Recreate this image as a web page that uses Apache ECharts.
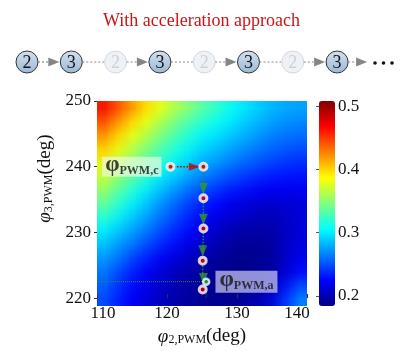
<!DOCTYPE html>
<html>
<head>
<meta charset="utf-8">
<script src="https://cdn.jsdelivr.net/npm/echarts@6/dist/echarts.min.js"></script>
<style>
html, body { margin: 0; padding: 0; background: #fff; }
#wrap { position: relative; width: 403px; height: 351px; }
#heat {
    position: absolute; left: 97px; top: 101px; width: 15px; height: 15px;
    transform: scale(14, 13.6667); transform-origin: 0 0; z-index: 0;
}
#chart { position: absolute; left: 0; top: 0; width: 403px; height: 351px; z-index: 1; }
</style>
</head>
<body>
<div id="wrap">
    <div id="heat"></div>
    <div id="chart"></div>
</div>
<script>
// cell centres of the map (deg)
const xCells = [111, 113, 115, 117, 119, 121, 123, 125, 127, 129, 131, 133, 135, 137, 139];
const yCells = [249, 247, 245, 243, 241, 239, 237, 235, 233, 231, 229, 227, 225, 223, 221];
// values, one row per yCells entry (top row first)
const fieldRows = [
    [0.474, 0.450, 0.428, 0.404, 0.386, 0.369, 0.355, 0.342, 0.328, 0.313, 0.302, 0.294, 0.286, 0.282, 0.278],
    [0.452, 0.430, 0.408, 0.387, 0.369, 0.353, 0.339, 0.326, 0.315, 0.304, 0.294, 0.286, 0.278, 0.274, 0.270],
    [0.430, 0.410, 0.388, 0.370, 0.354, 0.338, 0.324, 0.310, 0.302, 0.294, 0.286, 0.278, 0.270, 0.266, 0.262],
    [0.410, 0.390, 0.371, 0.354, 0.338, 0.324, 0.311, 0.298, 0.290, 0.282, 0.274, 0.267, 0.260, 0.256, 0.252],
    [0.392, 0.374, 0.356, 0.340, 0.325, 0.311, 0.298, 0.286, 0.278, 0.270, 0.263, 0.256, 0.250, 0.246, 0.242],
    [0.375, 0.358, 0.342, 0.326, 0.310, 0.296, 0.284, 0.272, 0.264, 0.256, 0.249, 0.244, 0.238, 0.235, 0.232],
    [0.360, 0.343, 0.326, 0.310, 0.294, 0.280, 0.268, 0.256, 0.248, 0.240, 0.234, 0.229, 0.224, 0.224, 0.223],
    [0.346, 0.328, 0.310, 0.294, 0.278, 0.264, 0.252, 0.240, 0.232, 0.224, 0.218, 0.214, 0.210, 0.212, 0.214],
    [0.327, 0.312, 0.296, 0.282, 0.267, 0.254, 0.242, 0.230, 0.222, 0.214, 0.209, 0.206, 0.204, 0.208, 0.213],
    [0.308, 0.295, 0.282, 0.269, 0.256, 0.244, 0.232, 0.220, 0.212, 0.204, 0.200, 0.199, 0.198, 0.205, 0.212],
    [0.293, 0.280, 0.268, 0.256, 0.244, 0.233, 0.222, 0.211, 0.204, 0.197, 0.193, 0.194, 0.194, 0.204, 0.213],
    [0.280, 0.267, 0.254, 0.242, 0.230, 0.220, 0.211, 0.203, 0.197, 0.192, 0.190, 0.191, 0.192, 0.205, 0.218],
    [0.268, 0.254, 0.240, 0.228, 0.216, 0.207, 0.201, 0.195, 0.191, 0.187, 0.186, 0.188, 0.190, 0.206, 0.222],
    [0.260, 0.246, 0.232, 0.222, 0.211, 0.203, 0.198, 0.193, 0.191, 0.188, 0.189, 0.194, 0.198, 0.220, 0.243],
    [0.252, 0.238, 0.224, 0.215, 0.207, 0.200, 0.195, 0.191, 0.190, 0.189, 0.192, 0.199, 0.206, 0.235, 0.264]
];
const barMin = 0.184, barMax = 0.508;
const barTicks = [0.2, 0.3, 0.4, 0.5];

// search path
const startPt = [120.5, 240];
const pathC = [[120.5, 240], [125.2, 240]];
const pathA = [[125.2, 240], [125.2, 235.2], [125.2, 230.6], [125.1, 225.7], [125.1, 221.3]];
const arrowC = [[123.9, 240]];
const arrowA = [[125.2, 236.7], [125.2, 232.0], [125.1, 227.2], [125.2, 223.0]];
const guideA = [[110, 222.5], [125.6, 222.5], [125.6, 220]];
const finalPt = [125.6, 222.5];

// step sequence on top
const seqLabels = ['2', '3', '2', '3', '2', '3', '2', '3'];
const seqFaded = [false, false, true, false, true, false, true, false];

const serif = 'Liberation Serif';
const jet = ['#000080', '#0000ff', '#0080ff', '#00ffff', '#80ff80', '#ffff00', '#ff8000', '#ff0000', '#800000'];

const heatData = [];
fieldRows.forEach((row, i) => {
    row.forEach((v, j) => heatData.push([j, i, v]));
});

// the map: one pixel per cell, stretched by css so the browser smooths it
const heatChart = echarts.init(document.getElementById('heat'), null, { devicePixelRatio: 1 });
heatChart.setOption({
    animation: false,
    grid: { left: 0, top: 0, right: 0, bottom: 0 },
    xAxis: { type: 'category', data: xCells, show: false },
    yAxis: { type: 'category', data: yCells, inverse: true, show: false },
    visualMap: { show: false, min: barMin, max: barMax, inRange: { color: jet } },
    series: [{ type: 'heatmap', data: heatData, silent: true, emphasis: { disabled: true } }]
});

// sequence diagram
const seqX0 = 27, seqDX = 44.3, seqY = 62, seqR = 11;
const graphics = [];
function connector(x1, x2, withHead) {
    const end = withHead ? x2 - 9 : x2;
    graphics.push({
        type: 'line',
        shape: { x1: x1, y1: seqY, x2: end, y2: seqY },
        style: { stroke: '#8a8a8a', lineWidth: 1.2, lineDash: [2, 2] }
    });
    if (withHead) {
        graphics.push({
            type: 'polygon',
            shape: { points: [[x2 - 12, seqY - 4.5], [x2 - 1, seqY], [x2 - 12, seqY + 4.5]] },
            style: { fill: '#858585' }
        });
    }
}
seqLabels.forEach((lab, i) => {
    const cx = seqX0 + i * seqDX;
    if (i > 0) {
        connector(cx - seqDX + seqR, cx - seqR, !seqFaded[i]);
    }
    const faded = seqFaded[i];
    graphics.push({
        type: 'circle',
        shape: { cx: cx, cy: seqY, r: seqR },
        style: {
            fill: faded ? '#eef1f5' : new echarts.graphic.LinearGradient(0, 0, 0, 1, [
                { offset: 0, color: '#d3e1ef' },
                { offset: 1, color: '#9bb8d6' }
            ]),
            stroke: faded ? '#d4d8dc' : '#333',
            lineWidth: 1
        }
    });
    graphics.push({
        type: 'text',
        style: {
            text: lab, x: cx, y: seqY + 1, align: 'center', verticalAlign: 'middle',
            font: '18px ' + serif, fill: faded ? '#cdd0d4' : '#111'
        }
    });
});
const lastX = seqX0 + (seqLabels.length - 1) * seqDX;
connector(lastX + seqR, lastX + seqR + 20, true);
[375, 383.5, 392].forEach(x => {
    graphics.push({ type: 'circle', shape: { cx: x, cy: seqY + 1, r: 1.8 }, style: { fill: '#111' } });
});

const phiRich = {
    phi: { fontFamily: serif, fontSize: 23, fontWeight: 'bold', color: '#111', lineHeight: 20, verticalAlign: 'bottom' },
    sub: { fontFamily: serif, fontSize: 12, fontWeight: 'bold', color: '#111', lineHeight: 20, verticalAlign: 'bottom', padding: [6, 0, 0, 0] }
};
const nameRich = {
    i: { fontFamily: serif, fontSize: 19, fontStyle: 'italic', color: '#111', lineHeight: 22, verticalAlign: 'bottom' },
    s: { fontFamily: serif, fontSize: 12, color: '#111', lineHeight: 22, verticalAlign: 'bottom', padding: [5, 0, 0, 0] },
    n: { fontFamily: serif, fontSize: 19, color: '#111', lineHeight: 22, verticalAlign: 'bottom' }
};

const option = {
    animation: false,
    backgroundColor: 'transparent',
    title: {
        text: 'With acceleration approach',
        left: 'center',
        top: 7,
        textStyle: { color: '#cc1414', fontFamily: serif, fontSize: 18, fontWeight: 'normal' }
    },
    graphic: graphics,
    grid: [
        { left: 97, top: 101, width: 210, height: 205 },
        { left: 319, top: 101, width: 16, height: 205 }
    ],
    xAxis: [
        {
            type: 'value', gridIndex: 0, min: 110, max: 140, interval: 10, position: 'bottom',
            name: '{i|φ}{s|2,PWM}{n|(deg)}',
            nameLocation: 'middle',
            nameGap: 22,
            nameTextStyle: { rich: nameRich },
            axisLine: { show: false },
            axisTick: { show: true, inside: true, length: 4, lineStyle: { color: '#333' } },
            axisLabel: {
                color: '#111', fontFamily: serif, fontSize: 17, margin: 7,
                formatter: v => v === 110 ? '{a|110}' : v === 140 ? '{b|140}' : String(v),
                rich: {
                    a: { fontFamily: serif, fontSize: 17, color: '#111', padding: [0, 0, 0, 12] },
                    b: { fontFamily: serif, fontSize: 17, color: '#111', padding: [0, 20, 0, 0] }
                }
            },
            splitLine: { show: false }
        },
        { type: 'value', gridIndex: 1, min: 0, max: 1, show: false }
    ],
    yAxis: [
        {
            type: 'value', gridIndex: 0, min: 220, max: 250, interval: 10, position: 'left',
            name: '{i|φ}{s|3,PWM}{n|(deg)}',
            nameLocation: 'middle',
            nameGap: 40,
            nameTextStyle: { padding: [0, 0, 0, 42], rich: nameRich },
            axisLine: { show: false },
            axisTick: { show: true, inside: false, length: 3, lineStyle: { color: '#333' } },
            axisLabel: { color: '#111', fontFamily: serif, fontSize: 17, margin: 6 },
            splitLine: { show: false }
        },
        {
            type: 'value', gridIndex: 1, min: barMin, max: barMax, position: 'right',
            axisLine: { show: false },
            axisTick: { show: true, inside: true, length: 3, customValues: barTicks, lineStyle: { color: '#555' } },
            axisLabel: {
                customValues: barTicks, color: '#111', fontFamily: serif, fontSize: 17, margin: 3,
                formatter: v => v.toFixed(1)
            },
            splitLine: { show: false }
        }
    ],
    visualMap: {
        type: 'continuous',
        min: barMin,
        max: barMax,
        seriesIndex: [],
        left: 319,
        top: 101,
        padding: 0,
        itemWidth: 16,
        itemHeight: 205,
        calculable: false,
        hoverLink: false,
        inRange: { color: jet }
    },
    series: [
        {
            type: 'line', data: pathC, symbol: 'none', silent: true,
            lineStyle: { color: '#c00000', width: 1.6, type: 'dotted' }, z: 3
        },
        {
            type: 'line', data: pathA, symbol: 'none', silent: true,
            lineStyle: { color: '#2a8f2a', width: 1.5, type: 'dotted' }, z: 3
        },
        {
            type: 'line', data: guideA, symbol: 'none', silent: true,
            lineStyle: { color: '#2a8f2a', width: 1, type: 'dotted' }, z: 3
        },
        {
            type: 'scatter', data: arrowC, silent: true,
            symbol: 'triangle', symbolSize: [8, 11], symbolRotate: -90,
            itemStyle: { color: '#cc0000' }, z: 4
        },
        {
            type: 'scatter', data: arrowA, silent: true,
            symbol: 'triangle', symbolSize: [9, 11], symbolRotate: 180,
            itemStyle: { color: '#2e9a2e' }, z: 4
        },
        {
            type: 'scatter', silent: true,
            data: pathA.concat([{
                value: startPt,
                label: {
                    show: true, position: 'left', distance: 4,
                    formatter: '{phi|φ}{sub|PWM,c}',
                    backgroundColor: 'rgba(236,250,226,0.88)',
                    padding: [0, 3, 0, 3],
                    rich: phiRich
                }
            }]),
            symbol: 'circle', symbolSize: 7,
            itemStyle: { color: '#d00000', borderColor: '#fff', borderWidth: 3 }, z: 5
        },
        {
            type: 'scatter', silent: true,
            data: [{
                value: finalPt,
                label: {
                    show: true, position: 'right', distance: 5,
                    formatter: '{phi|φ}{sub|PWM,a}',
                    backgroundColor: 'rgba(212,212,246,0.85)',
                    padding: [1, 4, 1, 4],
                    rich: phiRich
                }
            }],
            symbol: 'circle', symbolSize: 6,
            itemStyle: { color: '#16a04a', borderColor: '#fff', borderWidth: 2.5 }, z: 5
        }
    ]
};

const myChart = echarts.init(document.getElementById('chart'));
myChart.setOption(option);
</script>
</body>
</html>
